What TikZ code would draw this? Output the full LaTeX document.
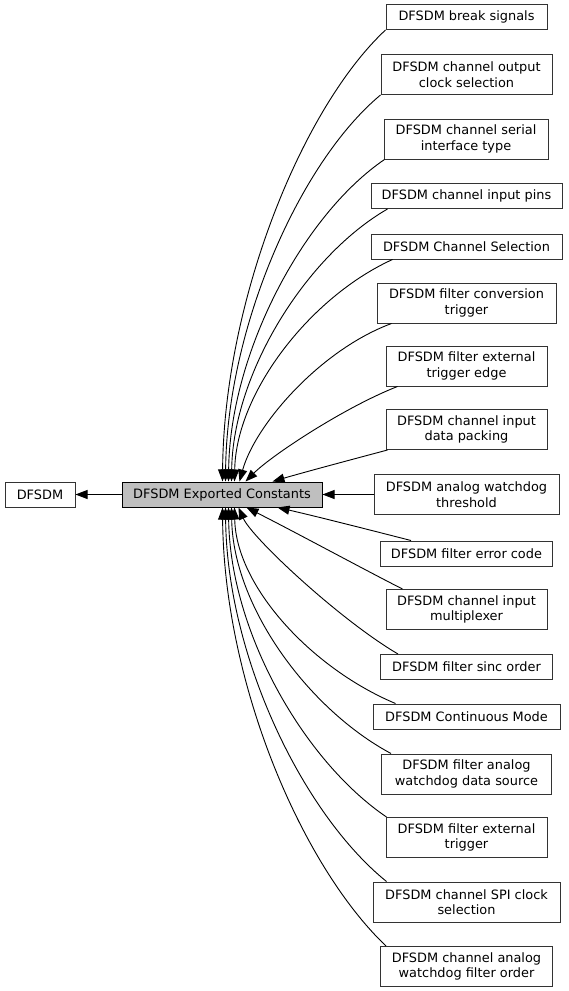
\documentclass[tikz,border=0pt]{standalone}
\usepackage{fontspec}
\setmainfont{DejaVu Sans}
\usetikzlibrary{arrows.meta,calc}
\definecolor{boxline}{HTML}{333333}
\definecolor{curfill}{HTML}{BFBFBF}
\begin{document}
\begin{tikzpicture}[x=1pt,y=-1pt,
  box/.style={draw=boxline,line width=1pt,fill=white,inner sep=0pt,align=center,
    font=\fontsize{12.9}{15.5}\selectfont},
  one/.style={box,minimum height=25pt},
  two/.style={box,minimum height=40pt},
  link/.style={line width=0.9pt,draw=black,-{Triangle[length=12pt,width=9pt]}}]
\useasboundingbox (0,0) rectangle (568,991);
\fill[white] (0,0) rectangle (568,991);

\node[one,minimum width=70pt] (dfsdm) at (40,494.5) {DFSDM};
\node[one,minimum width=200pt,fill=curfill,draw=black] (ec) at (222,494.5) {DFSDM Exported Constants};

\node[one,minimum width=161pt] (brk) at (466.5,17) {DFSDM break signals};
\node[two,minimum width=171pt] (occ) at (466.5,74.5) {DFSDM channel output\\clock selection};
\node[two,minimum width=164pt] (sit) at (466,139) {DFSDM channel serial\\interface type};
\node[one,minimum width=191pt] (pins) at (466.5,196) {DFSDM channel input pins};
\node[one,minimum width=191pt] (csel) at (466.5,246.5) {DFSDM Channel Selection};
\node[two,minimum width=179pt] (conv) at (466.5,303) {DFSDM filter conversion\\trigger};
\node[two,minimum width=161pt] (extedge) at (466.5,366) {DFSDM filter external\\trigger edge};
\node[two,minimum width=161pt] (pack) at (466.5,429.5) {DFSDM channel input\\data packing};
\node[two,minimum width=185pt] (thr) at (466.5,494.5) {DFSDM analog watchdog\\threshold};
\node[one,minimum width=172pt] (err) at (466.5,553.5) {DFSDM filter error code};
\node[two,minimum width=161pt] (mux) at (466.5,609.5) {DFSDM channel input\\multiplexer};
\node[one,minimum width=172pt] (sinc) at (466.5,667) {DFSDM filter sinc order};
\node[one,minimum width=187pt] (cont) at (466.5,716.5) {DFSDM Continuous Mode};
\node[two,minimum width=170pt] (awds) at (466.5,774) {DFSDM filter analog\\watchdog data source};
\node[two,minimum width=161pt] (ext) at (466.5,837.5) {DFSDM filter external\\trigger};
\node[two,minimum width=187pt] (spi) at (466.5,902) {DFSDM channel SPI clock\\selection};
\node[two,minimum width=172pt] (awfo) at (466.5,966.5) {DFSDM channel analog\\watchdog filter order};

% straight edges
\draw[link] (ec.west) -- (dfsdm.east);
\draw[link] (thr.west) -- (ec.east);

% upper fan
\draw[link] (brk.south west) .. controls (302,108) and (224,301) .. ([xshift=101pt]ec.north west);
\draw[link] (occ.south west) .. controls (300,162) and (227,327) .. ([xshift=104pt]ec.north west);
\draw[link] ([xshift=1pt]sit.south west) .. controls (303,215) and (230,353) .. ([xshift=107pt]ec.north west);
\draw[link] ([xshift=17pt]pins.south west) .. controls (306,256) and (233,373) .. ([xshift=110pt]ec.north west);
\draw[link] ([xshift=22pt]csel.south west) .. controls (310,297) and (236,393) .. ([xshift=113pt]ec.north west);
\draw[link] ([xshift=15pt]conv.south west) .. controls (320,350) and (255,425) .. ([xshift=118pt]ec.north west);
\draw[link] ([xshift=12pt]extedge.south west) .. controls (345,407) and (272,455) .. ([xshift=124pt]ec.north west);
\draw[link] ([xshift=2pt]pack.south west) .. controls (350,460) and (305,472) .. ([xshift=151pt]ec.north west);

% lower fan
\draw[link] ([xshift=31pt]err.north west) .. controls (370,530) and (315,516) .. ([xshift=156pt]ec.south west);
\draw[link] ([xshift=17pt]mux.north west) .. controls (365,570) and (295,532) .. ([xshift=125pt]ec.south west);
\draw[link] ([xshift=18pt]sinc.north west) .. controls (340,620) and (252,538) .. ([xshift=117pt]ec.south west);
\draw[link] ([xshift=23pt]cont.north west) .. controls (311,668) and (236,586) .. ([xshift=113pt]ec.south west);
\draw[link] ([xshift=10pt]awds.north west) .. controls (308,709) and (233,606) .. ([xshift=110pt]ec.south west);
\draw[link] ([xshift=1pt]ext.north west) .. controls (304,761) and (230,632) .. ([xshift=107pt]ec.south west);
\draw[link] ([xshift=14pt]spi.north west) .. controls (303,814) and (227,657) .. ([xshift=104pt]ec.south west);
\draw[link] ([xshift=6pt]awfo.north west) .. controls (302,866) and (224,684) .. ([xshift=101pt]ec.south west);
\end{tikzpicture}
\end{document}
